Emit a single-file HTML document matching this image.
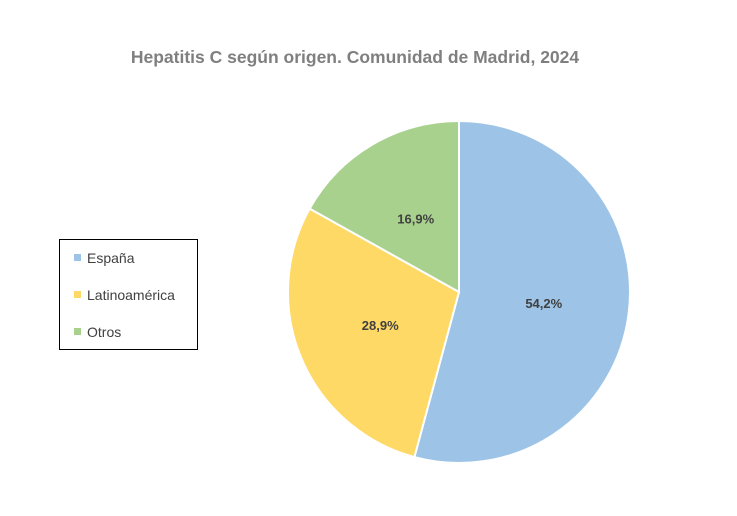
<!DOCTYPE html>
<html><head><meta charset="utf-8">
<style>
body{margin:0;background:#fff;width:737px;height:511px;overflow:hidden;font-family:"Liberation Sans",sans-serif}
</style></head>
<body>
<svg id="chart" width="737" height="511" xmlns="http://www.w3.org/2000/svg">
<text x="355" y="63" text-anchor="middle" font-size="17.5" font-weight="bold" fill="#7f7f7f">Hepatitis C según origen. Comunidad de Madrid, 2024</text>
<g id="slices"></g>
<rect x="59.5" y="239.5" width="138" height="110" fill="#fff" stroke="#000" stroke-width="1"/>
<g id="legend"></g>
</svg>
<script>
const categories = ["España", "Latinoamérica", "Otros"];
const values = [54.2, 28.9, 16.9];
const valueLabels = ["54,2%", "28,9%", "16,9%"];
const colors = ["#9dc3e6", "#ffd966", "#a9d18e"];
const ns = "http://www.w3.org/2000/svg";
const cx = 459, cy = 292, r = 171;
const total = values.reduce((a, b) => a + b, 0);
const slices = document.getElementById('slices');
let acc = 0;
function pt(frac, rad) { const a = frac * 2 * Math.PI - Math.PI / 2; return [cx + rad * Math.cos(a), cy + rad * Math.sin(a)]; }
values.forEach((v, i) => {
  const f0 = acc / total, f1 = (acc + v) / total; acc += v;
  const [x0, y0] = pt(f0, r), [x1, y1] = pt(f1, r);
  const large = (f1 - f0) > 0.5 ? 1 : 0;
  const p = document.createElementNS(ns, 'path');
  p.setAttribute('d', `M${cx},${cy} L${x0},${y0} A${r},${r} 0 ${large} 1 ${x1},${y1} Z`);
  p.setAttribute('fill', colors[i]);
  p.setAttribute('stroke', '#fff');
  p.setAttribute('stroke-width', '2');
  
  
  slices.appendChild(p);
  const [lx, ly] = pt((f0 + f1) / 2, r * 0.5);
  const t = document.createElementNS(ns, 'text');
  t.setAttribute('x', lx); t.setAttribute('y', ly + 5);
  t.setAttribute('text-anchor', 'middle');
  t.setAttribute('font-size', '13'); t.setAttribute('font-weight', 'bold'); t.setAttribute('fill', '#404040');
  t.textContent = valueLabels[i];
  
  
  slices.appendChild(t);
});
const legend = document.getElementById('legend');
categories.forEach((c, i) => {
  const y = 258 + i * 37;
  const g = document.createElementNS(ns, 'g');
  
  
  const s = document.createElementNS(ns, 'rect');
  s.setAttribute('x', 74); s.setAttribute('y', y - 4); s.setAttribute('width', 7); s.setAttribute('height', 7);
  s.setAttribute('fill', colors[i]);
  g.appendChild(s);
  const t = document.createElementNS(ns, 'text');
  t.setAttribute('x', 87); t.setAttribute('y', y + 5);
  t.setAttribute('font-size', '14'); t.setAttribute('fill', '#404040');
  t.textContent = c;
  g.appendChild(t);
  legend.appendChild(g);
});
</script>
</body></html>
